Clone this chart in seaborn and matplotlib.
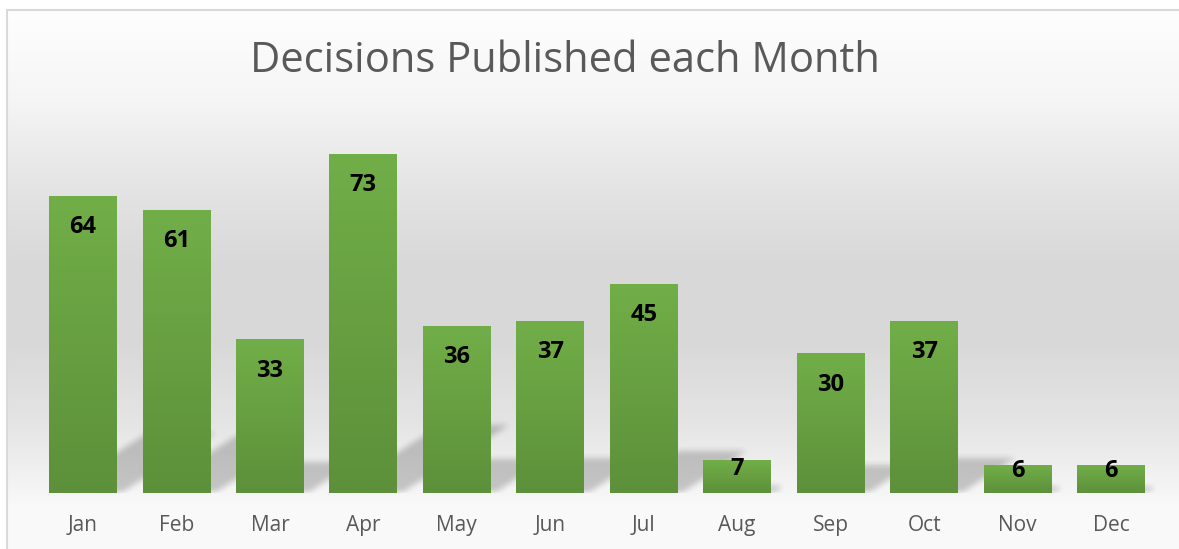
import numpy as np
import pandas as pd
import matplotlib.pyplot as plt
import seaborn as sns
from matplotlib.path import Path
from matplotlib.colors import LinearSegmentedColormap

months = ['Jan', 'Feb', 'Mar', 'Apr', 'May', 'Jun', 'Jul', 'Aug', 'Sep', 'Oct', 'Nov', 'Dec']
decisions = [64, 61, 33, 73, 36, 37, 45, 7, 30, 37, 6, 6]
title = 'Decisions Published each Month'

df = pd.DataFrame({'month': months, 'decisions': decisions})

W, H, DPI = 1179, 549, 100
sns.set_style('white')
plt.rcParams['font.family'] = ['Open Sans', 'DejaVu Sans']

fig = plt.figure(figsize=(W / DPI, H / DPI), dpi=DPI)

# chart area background: white -> grey -> white vertical gradient
bg = fig.add_axes([0, 0, 1, 1])
bg.set_axis_off()
ypx = np.arange(H)
stops_y = [0, 10, 100, 200, 260, 340, 420, 470, 505, 549]
stops_v = [255, 254, 245, 226, 217, 216, 228, 240, 249, 250]
prof = np.interp(ypx, stops_y, stops_v) / 255.0
grad = np.repeat(prof[:, None], W, axis=1)
rgb = np.dstack([grad, grad, grad])
rgb[:10, :, :] = 1.0
rgb[:, :6, :] = 1.0
bg.imshow(rgb, extent=(0, W, H, 0), aspect='auto', interpolation='bilinear')
bg.plot([6.5, W + 5], [9.5, 9.5], color='#d9d9d9', lw=1.5)
bg.plot([6.5, 6.5], [9.5, H + 5], color='#d9d9d9', lw=1.5)
bg.set_xlim(0, W)
bg.set_ylim(H, 0)

# plot axes
x_left, x_right = 36.3, 1157.7
y_base, y_top = 493, 122
ax = fig.add_axes([x_left / W, (H - y_base) / H, (x_right - x_left) / W, (y_base - y_top) / H])
ax.patch.set_visible(False)

sns.barplot(data=df, x='month', y='decisions', color='#70ad47', width=0.727,
            ax=ax, zorder=3)
ax.set_xlim(-0.5, 11.5)
ax.set_ylim(0, 80)

ppx = (x_right - x_left) / 12.0
ppy = (y_base - y_top) / 80.0

# soft perspective shadows behind the bars
gw, gh = int(x_right - x_left), int(y_base - y_top)
gx = np.linspace(-0.5, 11.5, gw)
gy = np.linspace(80, 0, gh)
XX, YY = np.meshgrid(gx, gy)
pts = np.column_stack([XX.ravel(), YY.ravel()])
mask = np.zeros(XX.size)
for p in ax.patches:
    x0, w, v = p.get_x(), p.get_width(), p.get_height()
    hpx = v * ppy
    dx = 0.33 * hpx / ppx
    dy = 0.2 * hpx / ppy
    poly = Path([(x0 + 0.05, 0), (x0 + w + 0.05, 0), (x0 + w + dx, dy), (x0 + dx, dy), (x0 + 0.05, 0)])
    mask = np.maximum(mask, poly.contains_points(pts).astype(float))
mask = mask.reshape(gh, gw)
k = np.ones(7) / 7.0
for _ in range(2):
    mask = np.apply_along_axis(lambda r: np.convolve(r, k, mode='same'), 1, mask)
    mask = np.apply_along_axis(lambda c: np.convolve(c, k, mode='same'), 0, mask)
shadow = np.zeros((gh, gw, 4))
shadow[..., 3] = mask * 0.2
ax.imshow(shadow, extent=(-0.5, 11.5, 0, 80), aspect='auto', zorder=1, interpolation='bilinear')

# vertical green gradient inside each bar
green = LinearSegmentedColormap.from_list('g', ['#5d903a', '#71ae48'])
col = np.linspace(0, 1, 256)[:, None]
for p in ax.patches:
    x0, w, v = p.get_x(), p.get_width(), p.get_height()
    p.set_alpha(0)
    ax.imshow(col, cmap=green, extent=(x0, x0 + w, 0, v), origin='lower',
              aspect='auto', zorder=3)
    off = min(31, v * ppy / 2 - 8) / ppy
    ax.text(x0 + w / 2, v - off, str(int(v)), ha='center', va='center',
            fontsize=17, fontweight='bold', color='black', zorder=5)

ax.set_xlim(-0.5, 11.5)
ax.set_ylim(0, 80)
ax.set_xlabel('')
ax.set_ylabel('')
ax.set_yticks([])
ax.tick_params(axis='x', length=0, pad=16, labelsize=15, labelcolor='#595959')
sns.despine(ax=ax, left=True, bottom=True)

fig.text(565 / W, 1 - 61 / H, title, ha='center', va='center', fontsize=30, color='#595959')

fig.savefig('out.png', dpi=DPI)
